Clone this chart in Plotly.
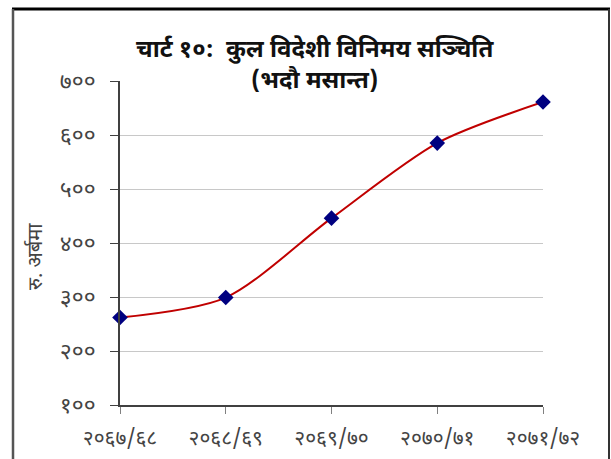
import plotly.graph_objects as go

categories = ["२०६७/६८", "२०६८/६९", "२०६९/७०", "२०७०/७१", "२०७१/७२"]
reserves = [262, 299, 446, 585, 661]
y_tick_vals = [100, 200, 300, 400, 500, 600, 700]
y_tick_text = ["१००", "२००", "३००", "४००", "५००", "६००", "७००"]

W, H = 611, 459
L, R, T, B = 120, 68, 81, 54
pw, ph = W - L - R, H - T - B

def px_x(p):
    return (p - L) / pw

def px_y(p):
    return (H - B - p) / ph

xs = list(range(len(categories)))

fig = go.Figure()
fig.add_trace(go.Scatter(
    x=xs, y=reserves, mode="lines+markers",
    line=dict(color="#C00000", width=2, shape="spline", smoothing=0.8),
    marker=dict(symbol="diamond", size=12, color="#000080"),
    cliponaxis=False, showlegend=False, hoverinfo="skip",
))

font_family = "Noto Sans Devanagari, Lohit Devanagari, Mangal, Noto Sans, sans-serif"

fig.update_layout(
    width=W, height=H,
    margin=dict(l=L, r=R, t=T, b=B, autoexpand=False),
    paper_bgcolor="white", plot_bgcolor="white",
    font=dict(family=font_family, color="#222"),
    xaxis=dict(
        range=[0, len(categories) - 1], tickvals=xs, ticktext=categories,
        showgrid=False, showline=True, linecolor="#404040", linewidth=1.5,
        ticks="outside", ticklen=7, tickcolor="#808080", ticklabelstandoff=6,
        tickfont=dict(size=21, color="#444"), zeroline=False, fixedrange=True,
        automargin=False,
    ),
    yaxis=dict(
        range=[100, 700], tickvals=y_tick_vals, ticktext=y_tick_text,
        showgrid=True, gridcolor="#C8C8C8", gridwidth=1,
        showline=True, linecolor="#404040", linewidth=1.5,
        ticks="outside", ticklen=8, tickcolor="#404040", ticklabelstandoff=10,
        tickfont=dict(size=23, color="#444"), zeroline=False, fixedrange=True,
        automargin=False,
    ),
    title=dict(
        text="<b>चार्ट १०:  कुल विदेशी विनिमय सञ्चिति</b><br><b>(भदौ मसान्त)</b>",
        x=0.515, xanchor="center", y=1 - 57 / H, yanchor="middle",
        font=dict(size=24, color="#111"), automargin=False,
    ),
)

fig.add_annotation(
    text="रु. अर्बमा", xref="paper", yref="paper",
    x=px_x(37), y=px_y(257), xanchor="center", yanchor="middle",
    textangle=-90, showarrow=False, font=dict(size=20, color="#444"),
)

# frame around the chart
fig.add_shape(type="line", xref="paper", yref="paper",
              x0=px_x(12), x1=px_x(610), y0=px_y(9), y1=px_y(9),
              line=dict(color="#000", width=3))
fig.add_shape(type="line", xref="paper", yref="paper",
              x0=px_x(13), x1=px_x(13), y0=px_y(9), y1=px_y(470),
              line=dict(color="#555", width=2.5))
fig.add_shape(type="line", xref="paper", yref="paper",
              x0=px_x(609), x1=px_x(609), y0=px_y(9), y1=px_y(470),
              line=dict(color="#333", width=2))

fig.write_html("out.html", config={"displayModeBar": False},
               post_script="document.body.style.margin='0';")
